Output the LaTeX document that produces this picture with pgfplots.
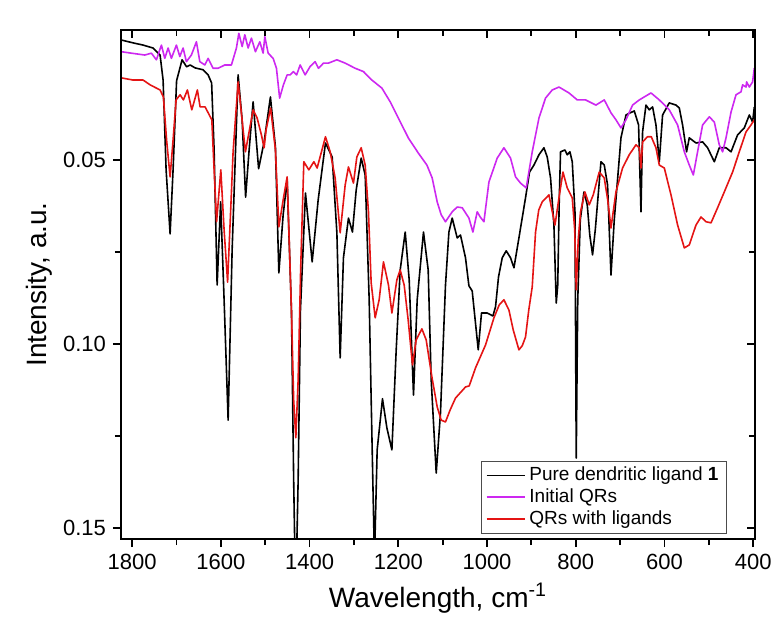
\documentclass[border=0pt]{standalone}
\usepackage{fontspec}
\setmainfont{Liberation Sans}
\usepackage{pgfplots}
\pgfplotsset{compat=1.18}

\definecolor{qrmag}{RGB}{205,40,240}
\definecolor{qrred}{RGB}{228,20,20}

\begin{document}
\begin{tikzpicture}
\pgfplotsset{
  ftir/.style={
    scale only axis,
    width=317pt, height=254.5pt,
    xmin=396, xmax=1825, x dir=reverse,
    ymin=0.0147, ymax=0.153, y dir=reverse,
    xtick={400,600,...,1800}, minor x tick num=1,
    ytick={0.05,0.10,0.15}, minor y tick num=1,
    major tick length=4pt, minor tick length=3pt,
    axis line style={line width=1pt},
    every tick/.style={black, line width=0.9pt},
    scaled y ticks=false,
  }
}
\begin{axis}[
  ftir,
  xtick pos=left, ytick pos=left, tick align=outside,
  /pgf/number format/assume math mode=true,
  ticklabel style={font=\fontsize{11}{13}\selectfont},
  yticklabel style={/pgf/number format/fixed, /pgf/number format/fixed zerofill, /pgf/number format/precision=2},
  xticklabel style={/pgf/number format/1000 sep={}},
  xlabel={Wavelength, cm\textsuperscript{-1}},
  ylabel={Intensity, a.u.},
  label style={font=\fontsize{14}{16}\selectfont},
  xlabel style={at={(axis description cs:0.5,-0.1336)}, anchor=base},
  ylabel style={at={(axis description cs:-0.118,0.5)}, anchor=base},
  legend cell align=left,
  legend style={at={(rel axis cs:0.956,0.0098)}, anchor=south east,
    font=\fontsize{9.5}{11}\selectfont, draw=black!70, line width=0.6pt,
    inner xsep=2pt, inner ysep=1pt, row sep=-1.5pt},
  legend image code/.code={\draw[#1, line width=0.8pt] (0pt,0pt) -- (19pt,0pt);},
  every axis plot/.append style={line width=0.8pt, line join=round},
]
% Pure dendritic ligand 1
\addplot[black] coordinates {
(1825,0.0174) (1797.7,0.0182) (1775.2,0.0188) (1752.6,0.0196) (1736.9,0.0215)
(1730.1,0.0283) (1723.3,0.0527) (1714.3,0.0701) (1707.6,0.0527) (1699.7,0.0285)
(1687.3,0.0228) (1677.1,0.0247) (1669.2,0.0242) (1658.0,0.0250) (1640.0,0.0255)
(1628.6,0.0269) (1620.7,0.0291) (1615.1,0.0473) (1608.3,0.0840) (1600.4,0.0614)
(1592.6,0.0880) (1583.5,0.1207) (1574.5,0.0745) (1561.0,0.0269) (1552.0,0.0391)
(1544.1,0.0601) (1536.2,0.0473) (1527.2,0.0342) (1514.8,0.0524) (1502.4,0.0451)
(1488.2,0.0329) (1476.9,0.0465) (1469.2,0.0807) (1459.5,0.0649) (1450.5,0.0554)
(1440.8,0.0908) (1435.8,0.1370) (1431.3,0.1696) (1425.7,0.1370) (1420.5,0.0908)
(1409.2,0.0590) (1394.1,0.0777) (1380.6,0.0609) (1364.1,0.0454) (1349.0,0.0492)
(1338.4,0.0698) (1331.0,0.1038) (1323.6,0.0766) (1312.3,0.0658) (1303.3,0.0696)
(1294.9,0.0582) (1283.6,0.0495) (1274.6,0.0541) (1265.6,0.0880) (1258.8,0.1288)
(1253.7,0.1587) (1247.6,0.1288) (1235.6,0.1149) (1225.7,0.1228) (1214.4,0.1288)
(1204.7,0.1016) (1195.7,0.0799) (1184.4,0.0696) (1175.4,0.0826) (1165.7,0.1139)
(1157.4,0.0880) (1143.2,0.0696) (1132.6,0.0799) (1125.8,0.1098) (1114.5,0.1351)
(1104.9,0.1188) (1093.6,0.0840) (1085.9,0.0696) (1078.5,0.0658) (1067.2,0.0712)
(1059.8,0.0704) (1048.5,0.0766) (1040.8,0.0842) (1033.4,0.0856) (1019.8,0.1016)
(1012.4,0.0916) (999.6,0.0916) (986.7,0.0924) (980.8,0.0899) (974.1,0.0818)
(965.7,0.0766) (956.7,0.0747) (947.0,0.0766) (939.3,0.0793) (928.1,0.0712)
(913.2,0.0603) (904.2,0.0533) (894.2,0.0514) (882.9,0.0486) (871.7,0.0467)
(864.3,0.0492) (856.8,0.0549) (849.2,0.0677) (844.0,0.0889) (840.6,0.0840)
(837.2,0.0609) (834.3,0.0478) (824.4,0.0473) (819.2,0.0486) (813.1,0.0478)
(807.9,0.0505) (801.8,0.0641) (798.9,0.1310) (795.5,0.0880) (789.8,0.0663)
(781.5,0.0587) (774.1,0.0622) (768.4,0.0704) (762.1,0.0758) (756.0,0.0690)
(743.2,0.0505) (735.7,0.0514) (728.3,0.0568) (720.6,0.0813) (713.2,0.0663)
(698.1,0.0440) (686.8,0.0378) (677.1,0.0372) (668.1,0.0367) (658.4,0.0405)
(653.0,0.0641) (649.4,0.0424) (641.7,0.0351) (634.3,0.0364) (626.8,0.0356)
(619.2,0.0405) (611.7,0.0505) (604.3,0.0378) (589.2,0.0345) (574.1,0.0351)
(566.6,0.0359) (559.2,0.0405) (550.2,0.0478) (544.1,0.0440) (529.0,0.0454)
(514.1,0.0451) (502.8,0.0467) (487.7,0.0505) (476.5,0.0467) (461.3,0.0467)
(450.0,0.0478) (435.2,0.0432) (420.1,0.0413) (408.8,0.0378) (401.4,0.0397)
(397.5,0.0356)
};
\addlegendentry{Pure dendritic ligand \textbf{1}}
% Initial QRs
\addplot[qrmag] coordinates {
(1824.1,0.0206) (1801.6,0.0210) (1771.4,0.0215) (1756.5,0.0210) (1745.2,0.0228)
(1733.9,0.0188) (1726.3,0.0224) (1718.8,0.0196) (1711.4,0.0224) (1700.1,0.0188)
(1692.4,0.0219) (1685.0,0.0196) (1677.6,0.0233) (1666.3,0.0215) (1655.0,0.0179)
(1647.3,0.0233) (1636.1,0.0242) (1628.6,0.0224) (1617.4,0.0251) (1606.1,0.0251)
(1590.9,0.0242) (1576.1,0.0242) (1564.8,0.0196) (1559.4,0.0156) (1551.9,0.0192)
(1545.9,0.0160) (1538.4,0.0196) (1531.0,0.0169) (1522.0,0.0206) (1512.1,0.0179)
(1504.6,0.0210) (1500.8,0.0165) (1493.3,0.0210) (1482.1,0.0224) (1474.6,0.0251)
(1467.4,0.0332) (1458.9,0.0296) (1450.5,0.0269) (1443.7,0.0269) (1436.3,0.0260)
(1429.1,0.0269) (1421.2,0.0242) (1409.9,0.0269) (1398.6,0.0246) (1387.4,0.0233)
(1379.9,0.0251) (1368.6,0.0237) (1357.4,0.0237) (1338.4,0.0228) (1319.7,0.0237)
(1297.2,0.0251) (1278.5,0.0260) (1259.5,0.0283) (1236.9,0.0305) (1218.3,0.0342)
(1199.6,0.0387) (1177.0,0.0441) (1154.5,0.0482) (1135.5,0.0514) (1123.6,0.0549)
(1112.3,0.0614) (1103.3,0.0649) (1093.6,0.0668) (1078.5,0.0641) (1067.2,0.0628)
(1055.9,0.0630) (1040.8,0.0658) (1031.8,0.0696) (1022.1,0.0641) (1015.3,0.0655)
(1007.0,0.0668) (995.7,0.0560) (977.0,0.0495) (961.9,0.0467) (947.0,0.0495)
(935.7,0.0546) (924.5,0.0563) (911.6,0.0576) (898.1,0.0478) (882.9,0.0386)
(868.1,0.0332) (853.0,0.0310) (837.8,0.0302) (815.3,0.0318) (796.6,0.0337)
(777.9,0.0337) (769.6,0.0342) (754.5,0.0351) (735.7,0.0337) (720.6,0.0372)
(709.4,0.0391) (698.1,0.0413) (686.8,0.0391) (671.9,0.0351) (656.8,0.0337)
(630.4,0.0318) (611.7,0.0337) (589.2,0.0364) (570.4,0.0405) (555.3,0.0478)
(544.1,0.0514) (535.0,0.0541) (525.4,0.0478) (514.1,0.0405) (499.0,0.0383)
(487.7,0.0397) (476.5,0.0459) (469.0,0.0478) (461.3,0.0440) (450.0,0.0370)
(438.8,0.0323) (427.5,0.0315) (423.9,0.0296) (416.3,0.0302) (414.9,0.0288)
(408.8,0.0302) (401.4,0.0288) (397.5,0.0250)
};
\addlegendentry{Initial QRs}
% QRs with ligands
\addplot[qrred] coordinates {
(1824.8,0.0277) (1797.7,0.0283) (1775.2,0.0283) (1759.4,0.0296) (1736.9,0.0310)
(1729.4,0.0329) (1722.2,0.0446) (1714.3,0.0546) (1707.6,0.0446) (1700.8,0.0337)
(1691.8,0.0323) (1684.3,0.0337) (1675.3,0.0310) (1665.4,0.0364) (1652.8,0.0310)
(1646.7,0.0356) (1635.4,0.0356) (1620.3,0.0391) (1615.1,0.0527) (1609.5,0.0668)
(1600.0,0.0527) (1592.6,0.0690) (1584.7,0.0832) (1576.8,0.0609) (1572.3,0.0478)
(1561.0,0.0288) (1544.5,0.0478) (1527.2,0.0364) (1518.2,0.0386) (1508.5,0.0432)
(1502.4,0.0467) (1497.9,0.0418) (1487.7,0.0359) (1476.9,0.0473) (1469.2,0.0682)
(1459.5,0.0609) (1450.5,0.0546) (1440.8,0.0908) (1435.8,0.1152) (1430.9,0.1255)
(1425.7,0.1098) (1420.1,0.0799) (1412.9,0.0505) (1401.6,0.0527) (1390.3,0.0505)
(1382.9,0.0522) (1364.1,0.0437) (1353.5,0.0478) (1342.3,0.0549) (1331.0,0.0698)
(1319.7,0.0568) (1312.3,0.0519) (1301.0,0.0563) (1293.4,0.0492) (1283.6,0.0467)
(1274.6,0.0514) (1267.2,0.0641) (1261.1,0.0834) (1252.1,0.0929) (1243.1,0.0880)
(1233.4,0.0777) (1222.1,0.0840) (1214.4,0.0916) (1203.2,0.0826) (1195.7,0.0799)
(1186.7,0.0840) (1177.7,0.0935) (1168.0,0.1057) (1159.7,0.0989) (1146.8,0.0959)
(1137.1,0.0989) (1124.2,0.1090) (1112.3,0.1171) (1103.3,0.1207) (1093.6,0.1212)
(1083.0,0.1179) (1071.0,0.1147) (1048.5,0.1117) (1040.1,0.1114) (1025.9,0.1065)
(1003.4,0.1003) (984.4,0.0929) (972.5,0.0894) (961.9,0.0880) (950.6,0.0908)
(940.9,0.0962) (928.1,0.1016) (920.6,0.1005) (913.2,0.0981) (905.9,0.0908)
(898.1,0.0845) (890.6,0.0696) (883.4,0.0636) (875.5,0.0614) (860.4,0.0595)
(852.9,0.0641) (846.8,0.0677) (837.8,0.0603) (828.8,0.0533) (819.2,0.0576)
(807.9,0.0603) (802.3,0.0690) (798.9,0.0853) (794.4,0.0717) (789.2,0.0641)
(779.3,0.0587) (769.6,0.0622) (760.6,0.0595) (747.1,0.0533) (735.8,0.0549)
(727.9,0.0609) (720.6,0.0685) (709.4,0.0587) (694.5,0.0522) (679.4,0.0486)
(664.3,0.0459) (656.8,0.0467) (653.0,0.0522) (649.4,0.0451) (638.1,0.0437)
(629.8,0.0437) (619.2,0.0467) (611.7,0.0514) (600.4,0.0522) (585.3,0.0595)
(570.4,0.0677) (555.3,0.0739) (544.1,0.0731) (529.0,0.0677) (517.7,0.0655)
(506.4,0.0668) (495.1,0.0671) (480.3,0.0630) (465.2,0.0587) (446.5,0.0533)
(431.4,0.0478) (416.3,0.0424) (405.0,0.0405) (397.5,0.0391)
};
\addlegendentry{QRs with ligands}
\end{axis}
% mirrored ticks on top and right, pointing inward
\begin{axis}[
  ftir,
  xtick pos=right, ytick pos=right, tick align=inside,
  xticklabel=\empty, yticklabel=\empty,
]
\end{axis}
% page size as in the reference
\path (current axis.south west) ++(-60.5pt,-37.5pt) coordinate (bbA);
\path (current axis.north east) ++(13pt,15pt) coordinate (bbB);
\path (bbA) rectangle (bbB);
\end{tikzpicture}
\end{document}
